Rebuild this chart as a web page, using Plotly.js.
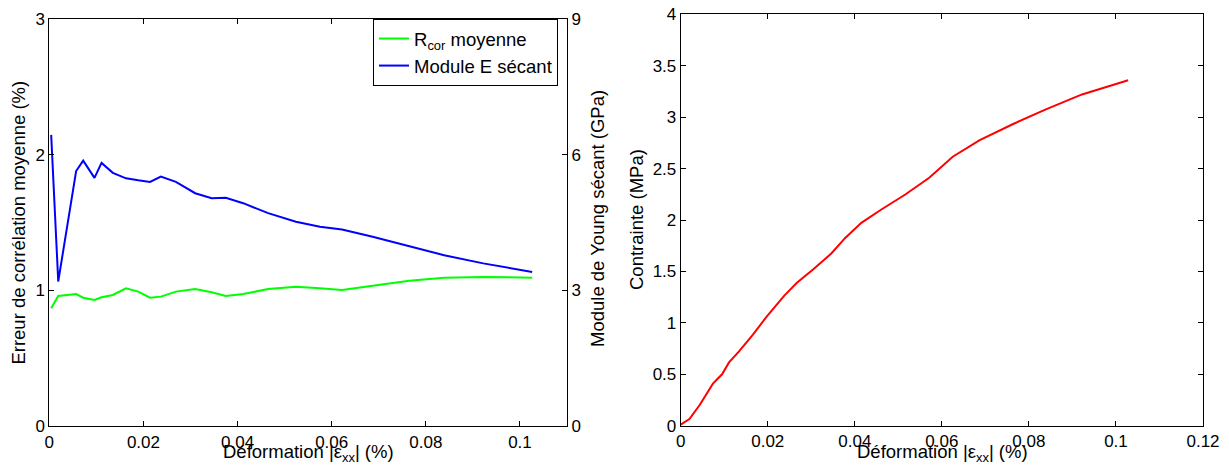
<!DOCTYPE html>
<html>
<head>
<meta charset="utf-8">
<script src="https://cdn.plot.ly/plotly-3.0.1.min.js"></script>
<style>html,body{margin:0;padding:0;background:#fff;}#chart{width:1229px;height:468px;}</style>
</head>
<body>
<div id="chart"></div>
<script>
// Left panel: strain (%), mean correlation error (%), secant Young modulus (GPa)
const strainLeft = [0.0004, 0.0019, 0.0057, 0.0072, 0.0096, 0.0111, 0.0135, 0.0163, 0.0189, 0.0214, 0.0237, 0.0269, 0.0310, 0.0345, 0.0375, 0.0412, 0.0465, 0.0524, 0.0575, 0.0622, 0.0687, 0.0765, 0.0839, 0.0922, 0.1026];
const rcorMean = [0.869, 0.960, 0.974, 0.947, 0.930, 0.950, 0.967, 1.016, 0.992, 0.947, 0.955, 0.992, 1.011, 0.987, 0.960, 0.974, 1.011, 1.028, 1.016, 1.004, 1.035, 1.072, 1.094, 1.100, 1.095];
const moduleE = [6.44, 3.20, 5.64, 5.87, 5.49, 5.82, 5.60, 5.48, 5.435, 5.40, 5.52, 5.40, 5.15, 5.04, 5.05, 4.93, 4.71, 4.52, 4.41, 4.35, 4.19, 3.98, 3.78, 3.60, 3.41];

// Right panel: strain (%), stress (MPa)
const strainRight = [0, 0.0020, 0.0044, 0.0060, 0.0074, 0.0095, 0.0111, 0.0134, 0.0166, 0.0198, 0.0217, 0.0238, 0.0267, 0.0304, 0.0346, 0.0378, 0.0415, 0.0461, 0.0516, 0.0571, 0.0625, 0.0687, 0.0765, 0.0839, 0.0922, 0.1028];
const stress = [0.01, 0.065, 0.204, 0.318, 0.409, 0.500, 0.615, 0.723, 0.886, 1.064, 1.161, 1.265, 1.389, 1.518, 1.674, 1.826, 1.972, 2.102, 2.248, 2.410, 2.615, 2.777, 2.936, 3.076, 3.221, 3.358];

const seriesNames = ['R<sub>cor</sub> moyenne', 'Module E sécant'];
const xTitle = 'Déformation |ε<sub>xx</sub>| (%)';
const yTitleLeft = 'Erreur de corrélation moyenne (%)';
const y2TitleLeft = 'Module de Young sécant (GPa)';
const yTitleRight = 'Contrainte (MPa)';

const W = 1229, H = 468;
const FONT = 'Liberation Sans, Arial, Helvetica, sans-serif';
const px = v => v / W;
const py = v => 1 - v / H;

const traces = [
  {x: strainLeft, y: rcorMean, name: seriesNames[0], type: 'scatter', mode: 'lines',
   line: {color: '#00ff00', width: 2}, xaxis: 'x', yaxis: 'y'},
  {x: strainLeft, y: moduleE, name: seriesNames[1], type: 'scatter', mode: 'lines',
   line: {color: '#0000ff', width: 2}, xaxis: 'x', yaxis: 'y2'},
  {x: strainRight, y: stress, name: 'Contrainte', type: 'scatter', mode: 'lines',
   line: {color: '#ff0000', width: 2}, xaxis: 'x2', yaxis: 'y3', showlegend: false}
];

const axBase = {
  showline: true, linecolor: '#000', linewidth: 1, showgrid: false, zeroline: false,
  ticks: 'inside', ticklen: 5, tickwidth: 1, tickcolor: '#000',
  tickfont: {family: FONT, size: 17, color: '#000'}
};

const layout = {
  width: W, height: H,
  margin: {l: 0, r: 0, t: 0, b: 0},
  paper_bgcolor: '#fff', plot_bgcolor: '#fff',
  font: {family: FONT, color: '#000'},
  showlegend: true,
  legend: {
    x: px(373), y: py(19), xanchor: 'left', yanchor: 'top',
    bgcolor: '#fff', bordercolor: '#000', borderwidth: 1,
    font: {family: FONT, size: 18.5, color: '#000'},
    tracegroupgap: 0
  },
  xaxis: Object.assign({}, axBase, {domain: [px(49.3), px(567)], range: [0, 0.11], dtick: 0.02, tick0: 0, mirror: 'ticks', anchor: 'y'}),
  yaxis: Object.assign({}, axBase, {domain: [py(426.3), py(19)], range: [0, 3], dtick: 1, anchor: 'x'}),
  yaxis2: Object.assign({}, axBase, {overlaying: 'y', side: 'right', range: [0, 9], dtick: 3, anchor: 'x'}),
  xaxis2: Object.assign({}, axBase, {domain: [px(680.7), px(1203)], range: [0, 0.12], dtick: 0.02, tick0: 0, mirror: 'ticks', anchor: 'y3'}),
  yaxis3: Object.assign({}, axBase, {domain: [py(425.7), py(14.3)], range: [0, 4], dtick: 0.5, mirror: 'ticks', anchor: 'x2'}),
  annotations: [
    {text: xTitle, xref: 'paper', yref: 'paper', x: px(308), y: py(453), xanchor: 'center', yanchor: 'middle', showarrow: false, font: {family: FONT, size: 18.5, color: '#000'}},
    {text: xTitle, xref: 'paper', yref: 'paper', x: px(942), y: py(453), xanchor: 'center', yanchor: 'middle', showarrow: false, font: {family: FONT, size: 18.5, color: '#000'}},
    {text: yTitleLeft, xref: 'paper', yref: 'paper', x: px(19), y: py(222.6), xanchor: 'center', yanchor: 'middle', textangle: -90, showarrow: false, font: {family: FONT, size: 18.5, color: '#000'}},
    {text: y2TitleLeft, xref: 'paper', yref: 'paper', x: px(597), y: py(219), xanchor: 'center', yanchor: 'middle', textangle: -90, showarrow: false, font: {family: FONT, size: 18.5, color: '#000'}},
    {text: yTitleRight, xref: 'paper', yref: 'paper', x: px(636), y: py(220), xanchor: 'center', yanchor: 'middle', textangle: -90, showarrow: false, font: {family: FONT, size: 18.5, color: '#000'}}
  ]
};

Plotly.newPlot('chart', traces, layout, {displayModeBar: false, staticPlot: true});
</script>
</body>
</html>
